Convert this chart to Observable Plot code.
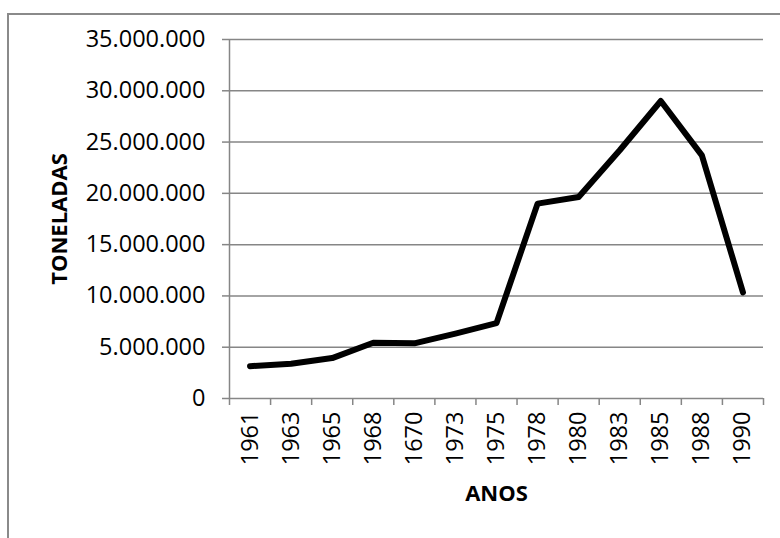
<!DOCTYPE html>
<html>
<head>
<meta charset="utf-8">
<script src="https://cdn.jsdelivr.net/npm/d3@7"></script>
<script src="https://cdn.jsdelivr.net/npm/@observablehq/plot@0.6"></script>
<style>
  html, body { margin: 0; padding: 0; background: #fff; }
  #wrap { position: relative; width: 780px; height: 538px; overflow: hidden; }
  #frame { position: absolute; left: 7px; top: 13px; width: 800px; height: 600px;
           border-left: 2px solid #8a8a8a; border-top: 2px solid #8a8a8a; }
  g[aria-label="y-axis label"] text, g[aria-label="x-axis label"] text { font-weight: bold; font-size: 22px; }
</style>
</head>
<body>
<div id="wrap"><div id="frame"></div></div>
<script>
const categories = ["1961","1963","1965","1968","1670","1973","1975","1978","1980","1983","1985","1988","1990"];
const values = [3150000, 3390000, 3940000, 5440000, 5380000, 6320000, 7350000, 19000000, 19650000, 24200000, 29000000, 23700000, 10350000];
const yTicks = [0, 5000000, 10000000, 15000000, 20000000, 25000000, 30000000, 35000000];

const data = categories.map((c, i) => ({i, c, v: values[i]}));
const boundaries = d3.range(categories.length + 1).map(k => k - 0.5);
const loc = d3.formatLocale({decimal: ",", thousands: ".", grouping: [3], currency: ["", ""]});
const fmt = loc.format(",");
const grid = "#868686";

const chart = Plot.plot({
  width: 780,
  height: 538,
  marginLeft: 229,
  marginRight: 17,
  marginTop: 39,
  marginBottom: 140,
  style: {fontFamily: "'Open Sans', sans-serif", fontSize: "23.5px", color: "#000", background: "transparent"},
  x: {type: "linear", domain: [-0.5, categories.length - 0.5]},
  y: {domain: [0, 35000000]},
  marks: [
    Plot.gridY(yTicks, {stroke: grid, strokeOpacity: 1, strokeWidth: 1.5}),
    Plot.ruleX([-0.5], {y1: 0, y2: 35000000, stroke: grid, strokeWidth: 1.5}),
    Plot.axisY(yTicks, {tickSize: 7, tickPadding: 17, tickFormat: fmt, stroke: grid, strokeWidth: 1.5,
      label: "TONELADAS", labelAnchor: "center", labelOffset: 178, labelArrow: "none"}),
    Plot.axisX(boundaries, {tickSize: 7, tickFormat: () => "", stroke: grid, strokeWidth: 1.5, label: null}),
    Plot.axisX(d3.range(categories.length), {tickSize: 0, tickPadding: 13, tickRotate: -90,
      tickFormat: i => categories[i], label: "ANOS", labelAnchor: "center", labelOffset: 102, labelArrow: "none"}),
    Plot.line(data, {x: "i", y: "v", stroke: "#000", strokeWidth: 6, strokeLinejoin: "round", strokeLinecap: "round"})
  ]
});
document.getElementById("wrap").appendChild(chart);
chart.style.position = "absolute";
chart.style.left = "0";
chart.style.top = "0";
</script>
</body>
</html>
